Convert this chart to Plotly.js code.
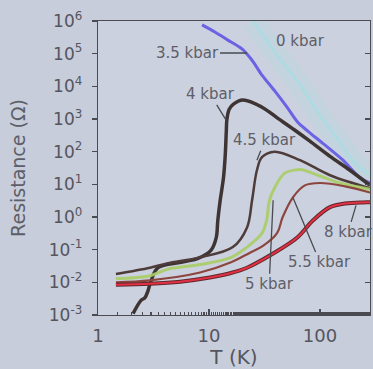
<!DOCTYPE html>
<html>
<head>
<meta charset="utf-8">
<script src="https://cdn.plot.ly/plotly-3.0.1.min.js"></script>
<style>
html,body{margin:0;padding:0;background:#c7cddb;}
#chart{width:373px;height:369px;}
</style>
</head>
<body>
<div id="chart"></div>
<script>
// Tick labels
const xTickVals = [1, 10, 100];
const xTickText = ['1', '10', '100'];
const yTickVals = [1e-3, 1e-2, 1e-1, 1e0, 1e1, 1e2, 1e3, 1e4, 1e5, 1e6];
const yTickText = ['10<sup>-3</sup>', '10<sup>-2</sup>', '10<sup>-1</sup>', '10<sup>0</sup>', '10<sup>1</sup>',
                   '10<sup>2</sup>', '10<sup>3</sup>', '10<sup>4</sup>', '10<sup>5</sup>', '10<sup>6</sup>'];

// Series (T in K, R in ohm)
const seriesNames = ['0 kbar', '3.5 kbar', '4 kbar', '4.5 kbar', '5 kbar', '5.5 kbar', '8 kbar'];

const T_0 = [25, 40, 66, 100, 150, 200, 282];
const R_0 = [1e6, 1e5, 1.1e4, 1.3e3, 200, 50, 19];

const T_35 = [8.65, 11.3, 14.8, 19.8, 24.4, 30, 39.2, 50.4, 63, 78, 106, 161, 228, 282];
const R_35 = [7.6e5, 4.6e5, 2.6e5, 1.4e5, 6.3e4, 2.2e4, 7.1e3, 2.3e3, 790, 420, 180, 55, 16, 11];

const T_4 = [2.07, 2.44, 2.65, 2.82, 3.0, 3.47, 5.6, 7.95, 10.4, 11.6, 12.0, 12.6, 13.5, 14.0, 14.3, 14.5, 15.2, 16.5, 20.2, 30, 41.7, 59, 81, 123, 186, 282];
const R_4 = [1.1e-3, 2.8e-3, 3.4e-3, 5.5e-3, 1.1e-2, 2.8e-2, 4.1e-2, 5.4e-2, 9.5e-2, 0.23, 0.79, 3.2, 16, 79, 400, 1.0e3, 2.0e3, 2.8e3, 3.8e3, 2.3e3, 1.05e3, 460, 210, 72, 27, 9.3];

const T_45 = [1.45, 2.94, 4.18, 8.3, 16.4, 22, 24.4, 27, 30, 39, 66, 123, 282];
const R_45 = [1.8e-2, 2.8e-2, 3.8e-2, 5.8e-2, 0.12, 0.48, 3.2, 27, 68, 100, 55, 19, 7.6];

const T_5 = [1.45, 2.94, 4.2, 8.3, 15.8, 22, 30, 33, 35, 39, 48, 62, 69, 100, 150, 282];
const R_5 = [1.3e-2, 1.6e-2, 2.5e-2, 3.5e-2, 5.8e-2, 0.12, 0.32, 0.79, 3.2, 7.9, 22, 28, 28, 18, 11, 7.1];

const T_55 = [1.45, 2.94, 8.3, 15.8, 23.4, 30.6, 41, 46, 57, 73, 100, 168, 282];
const R_55 = [1.0e-2, 1.15e-2, 2.0e-2, 4.1e-2, 8.1e-2, 0.13, 0.32, 0.98, 4.0, 9.3, 11, 8.7, 5.6];

const T_8 = [1.45, 2.94, 5.5, 10.2, 15.5, 22, 37.8, 62, 86.6, 123, 168, 244, 290];
const R_8 = [8.5e-3, 9.1e-3, 1.05e-2, 1.4e-2, 1.9e-2, 2.8e-2, 7.6e-2, 0.23, 0.79, 2.0, 2.6, 2.8, 2.8];

const traces = [
  {x: T_0, y: R_0, mode: 'lines', line: {color: 'rgba(160,225,228,0.18)', width: 22, shape: 'spline'}},
  {x: T_0, y: R_0, mode: 'lines', line: {color: 'rgba(165,222,226,0.7)', width: 3, shape: 'spline'}},
  {x: T_35, y: R_35, mode: 'lines', line: {color: 'rgb(108,98,228)', width: 3, shape: 'spline', smoothing: 0.8}},
  {x: T_4, y: R_4, mode: 'lines', line: {color: 'rgb(62,52,52)', width: 3.5, shape: 'spline'}},
  {x: T_45, y: R_45, mode: 'lines', line: {color: 'rgb(78,60,58)', width: 2.5, shape: 'spline'}},
  {x: T_5, y: R_5, mode: 'lines', line: {color: 'rgba(170,205,100,0.9)', width: 3, shape: 'spline'}},
  {x: T_55, y: R_55, mode: 'lines', line: {color: 'rgb(140,70,62)', width: 2.2, shape: 'spline'}},
  {x: T_8, y: R_8, mode: 'lines', line: {color: 'rgb(95,40,45)', width: 4, shape: 'spline'}},
  {x: T_8, y: R_8, mode: 'lines', line: {color: 'rgb(228,48,68)', width: 2, shape: 'spline'}},
  {x: [], y: [], yaxis: 'y2', mode: 'lines'}
];

const lx = v => Math.log10(v);
const annFont = {family: 'DejaVu Sans, sans-serif', size: 15, color: '#5e5e68'};
const arrowStyle = {showarrow: true, arrowhead: 0, arrowwidth: 1.3, arrowcolor: '#4a4a50'};

const annotations = [
  {text: seriesNames[0], x: lx(66), y: 5.39, showarrow: false, font: annFont},
  Object.assign({text: seriesNames[1], x: lx(22), y: 5.02, ax: -60, ay: 0, font: annFont}, arrowStyle),
  Object.assign({text: seriesNames[2], x: lx(14.3), y: 2.96, ax: -16, ay: -26, font: annFont}, arrowStyle),
  Object.assign({text: seriesNames[3], x: lx(27), y: 1.74, ax: 8, ay: -20, font: annFont}, arrowStyle),
  Object.assign({text: seriesNames[4], x: lx(37.8), y: 0.51, ax: -4, ay: 84, font: annFont}, arrowStyle),
  Object.assign({text: seriesNames[5], x: lx(57), y: 0.60, ax: 27, ay: 65, font: annFont}, arrowStyle),
  Object.assign({text: seriesNames[6], x: lx(211), y: 0.356, ax: -8, ay: 27, font: annFont}, arrowStyle)
];

const axisFont = {family: 'DejaVu Sans, sans-serif', size: 17, color: '#55555e'};
const lineCol = '#4a4a50';

const layout = {
  width: 373, height: 369,
  margin: {l: 98, r: 3, t: 21, b: 54, pad: 0},
  paper_bgcolor: '#c7cddb',
  plot_bgcolor: '#cbd1de',
  showlegend: false,
  xaxis: {
    type: 'log', range: [0, 2.45],
    tickvals: xTickVals, ticktext: xTickText,
    ticks: 'inside', ticklen: 6, tickwidth: 1.2, tickcolor: lineCol,
    minor: {ticks: 'inside', ticklen: 3, tickcolor: lineCol, showgrid: false},
    showline: true, linecolor: lineCol, linewidth: 1.3, mirror: true,
    showgrid: false, zeroline: false,
    tickfont: {family: 'DejaVu Sans, sans-serif', size: 18, color: '#55555e'},
    ticklabelstandoff: 4,
    title: {text: 'T (K)', font: {family: 'DejaVu Sans, sans-serif', size: 20, color: '#55555e'}, standoff: 2}
  },
  yaxis: {
    type: 'log', range: [-3, 6],
    tickvals: yTickVals, ticktext: yTickText,
    ticks: 'outside', ticklen: 5, tickwidth: 1.2, tickcolor: lineCol,
    showline: true, linecolor: lineCol, linewidth: 1.3,
    showgrid: false, zeroline: false,
    tickfont: axisFont,
    ticklabelstandoff: 6,
    title: {text: 'Resistance (Ω)', font: {family: 'DejaVu Sans, sans-serif', size: 19, color: '#5e5e68'}, standoff: 18}
  },
  yaxis2: {
    type: 'log', range: [-3, 6], overlaying: 'y', side: 'right', anchor: 'x',
    tickvals: yTickVals, showticklabels: false,
    ticks: 'inside', ticklen: 5, tickwidth: 1.2, tickcolor: lineCol,
    showline: true, linecolor: lineCol, linewidth: 1.3,
    showgrid: false, zeroline: false
  },
  annotations: annotations
};

Plotly.newPlot('chart', traces, layout, {displayModeBar: false, staticPlot: true});
</script>
</body>
</html>
